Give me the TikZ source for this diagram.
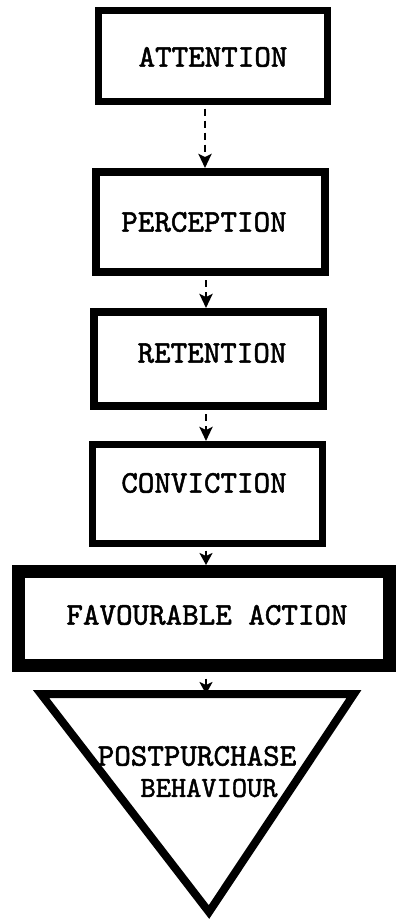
\documentclass[tikz,border=0pt]{standalone}
\usepackage{fontspec}
\newfontfamily\typew{lmmono10-regular.otf}[FakeBold=1.6]
\usetikzlibrary{arrows.meta}
\begin{document}
\begin{tikzpicture}[x=1pt,y=-1pt,
  stage/.style={draw=black, line width=7pt, minimum width=229pt, inner sep=0pt},
  caption/.style={font=\typew\fontsize{31.5}{31.5}\selectfont, inner sep=0pt},
  flow/.style={line width=2.8pt, dash pattern=on 7pt off 5pt,
    -{Stealth[length=14pt,width=13pt,inset=3pt]}},
  link/.style={line width=2.8pt, -{Stealth[length=12pt,width=13pt,inset=3pt]}}]
\useasboundingbox (0,0) rectangle (399,921);

% the stages, top to bottom
\node[stage, minimum height=91pt] (attn) at (213,56) {};
\node[stage, line width=8pt, minimum height=100pt] (perc) at (210.5,222) {};
\node[stage, line width=8pt, minimum height=94pt] (ret) at (208.5,359) {};
\node[stage, minimum width=230pt, minimum height=99pt] (conv) at (207.5,494) {};
\node[stage, line width=13pt, minimum width=371pt, minimum height=94pt] (fav) at (204,618.5) {};

% closing triangle
\coordinate (tl) at (41,694);
\coordinate (tr) at (354,694);
\coordinate (tb) at (209,912);
\draw[line width=8pt, line join=miter] (tl) -- (tr) -- (tb) -- cycle;

% labels
\node[caption] (tattn) at (213,57) {ATTENTION};
\node[caption] (tperc) at (204,222) {PERCEPTION};
\node[caption] (tret) at (212,353) {RETENTION};
\node[caption] (tconv) at (204,483) {CONVICTION};
\node[caption] (tfav) at (207,615) {FAVOURABLE ACTION};
\node[caption] (tpost) at (197,756) {POSTPURCHASE};
\node[caption, font=\typew\fontsize{29}{29}\selectfont] (tbeh) at (209,788) {BEHAVIOUR};

% connectors
\coordinate (col) at (206,0);
\draw[flow, shorten <=3.5pt] (attn.south -| 205,0) -- (perc.north -| 205,0);
\draw[flow, shorten <=4pt] (perc.south -| col) -- (ret.north -| col);
\draw[flow, shorten <=4pt] (ret.south -| col) -- (conv.north -| col);
\draw[link, shorten <=3.5pt] (conv.south -| col) -- (fav.north -| col);
\draw[link, shorten <=6.5pt] (fav.south -| col) -- (tl -| col);
\end{tikzpicture}
\end{document}
